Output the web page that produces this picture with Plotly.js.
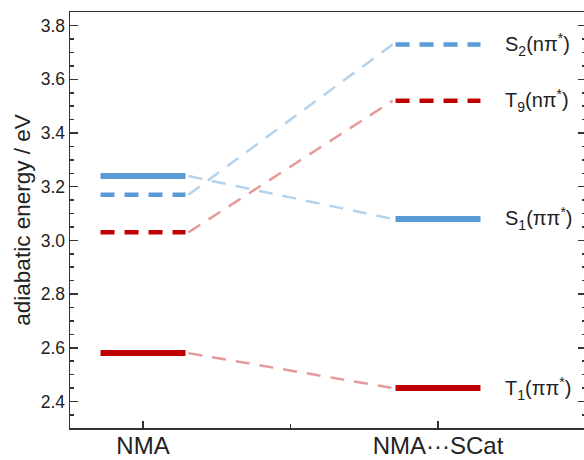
<!DOCTYPE html>
<html>
<head>
<meta charset="utf-8">
<script src="https://cdn.plot.ly/plotly-3.0.1.min.js"></script>
<style>
  html, body { margin: 0; padding: 0; overflow: hidden; background: #fff; }
  #chart { width: 586px; height: 460px; }
</style>
</head>
<body>
<div id="chart"></div>
<script>
// Data
const systems = ['NMA', 'NMA···SCat'];
const systemPos = [1, 2];
const states = ['S2', 'T9', 'S1', 'T1'];
const stateLabels = ['S<sub>2</sub>(nπ<sup>*</sup>)', 'T<sub>9</sub>(nπ<sup>*</sup>)', 'S<sub>1</sub>(ππ<sup>*</sup>)', 'T<sub>1</sub>(ππ<sup>*</sup>)'];
const energyNMA = [3.17, 3.03, 3.24, 2.58];
const energySCat = [3.73, 3.52, 3.08, 2.45];
const stateType = ['dash', 'dash', 'solid', 'solid'];
const stateColor = ['#5b9bd5', '#c00000', '#5b9bd5', '#c00000'];
const linkColor = ['rgba(91,155,213,0.45)', 'rgba(192,0,0,0.4)', 'rgba(91,155,213,0.45)', 'rgba(192,0,0,0.4)'];
const yTicks = [2.4, 2.6, 2.8, 3.0, 3.2, 3.4, 3.6, 3.8];

const half = 0.144;
const traces = [];
// connectors
states.forEach((s, i) => {
  traces.push({
    x: [systemPos[0] + half + 0.01, systemPos[1] - half - 0.01],
    y: [energyNMA[i], energySCat[i]],
    mode: 'lines', type: 'scatter', hoverinfo: 'skip', showlegend: false,
    line: { color: linkColor[i], width: 2.5, dash: '14px,10px' }
  });
});
// levels
states.forEach((s, i) => {
  [energyNMA[i], energySCat[i]].forEach((e, j) => {
    traces.push({
      x: [systemPos[j] - half, systemPos[j] + half],
      y: [e, e],
      mode: 'lines', type: 'scatter', showlegend: false, name: s,
      line: stateType[i] === 'solid'
        ? { color: stateColor[i], width: 6 }
        : { color: stateColor[i], width: 4.5, dash: '14px,10px' }
    });
  });
});

const annotations = states.map((s, i) => ({
  x: 2.22, y: energySCat[i], xref: 'x', yref: 'y',
  text: stateLabels[i], showarrow: false, xanchor: 'left', yanchor: 'middle',
  font: { size: 20, color: '#222', family: 'Liberation Sans, Arial, sans-serif' }
}));

const layout = {
  width: 586, height: 460,
  margin: { l: 70, r: 0, t: 12, b: 32 },
  paper_bgcolor: '#fff', plot_bgcolor: '#fff',
  font: { family: 'Liberation Sans, Arial, sans-serif', color: '#222' },
  xaxis: {
    range: [0.7525, 2.5017],
    tickmode: 'array', tickvals: systemPos, ticktext: systems,
    ticks: 'inside', ticklen: 7, tickwidth: 1.5, tickcolor: '#333',
    minor: { tickmode: 'array', tickvals: [1.5], ticks: 'inside', ticklen: 4, tickwidth: 1.5, tickcolor: '#333' },
    showline: true, linecolor: '#333', linewidth: 1.5, mirror: true,
    showgrid: false, zeroline: false,
    ticklabelstandoff: -4,
    tickfont: { size: 24, color: '#222' }
  },
  yaxis: {
    range: [2.301, 3.851],
    tickmode: 'array', tickvals: yTicks, ticktext: yTicks.map(v => v.toFixed(1)),
    ticks: 'inside', ticklen: 8, tickwidth: 1.5, tickcolor: '#333',
    minor: { dtick: 0.05, tick0: 2.4, ticks: 'inside', ticklen: 4, tickwidth: 1.5, tickcolor: '#333' },
    showline: true, linecolor: '#333', linewidth: 1.5, mirror: 'ticks',
    showgrid: false, zeroline: false,
    tickfont: { size: 17.5, color: '#222' },
    title: { text: 'adiabatic energy / eV', font: { size: 22.5, color: '#222' }, standoff: 4 }
  },
  annotations: annotations
};

Plotly.newPlot('chart', traces, layout, { displayModeBar: false, staticPlot: true });
</script>
</body>
</html>
